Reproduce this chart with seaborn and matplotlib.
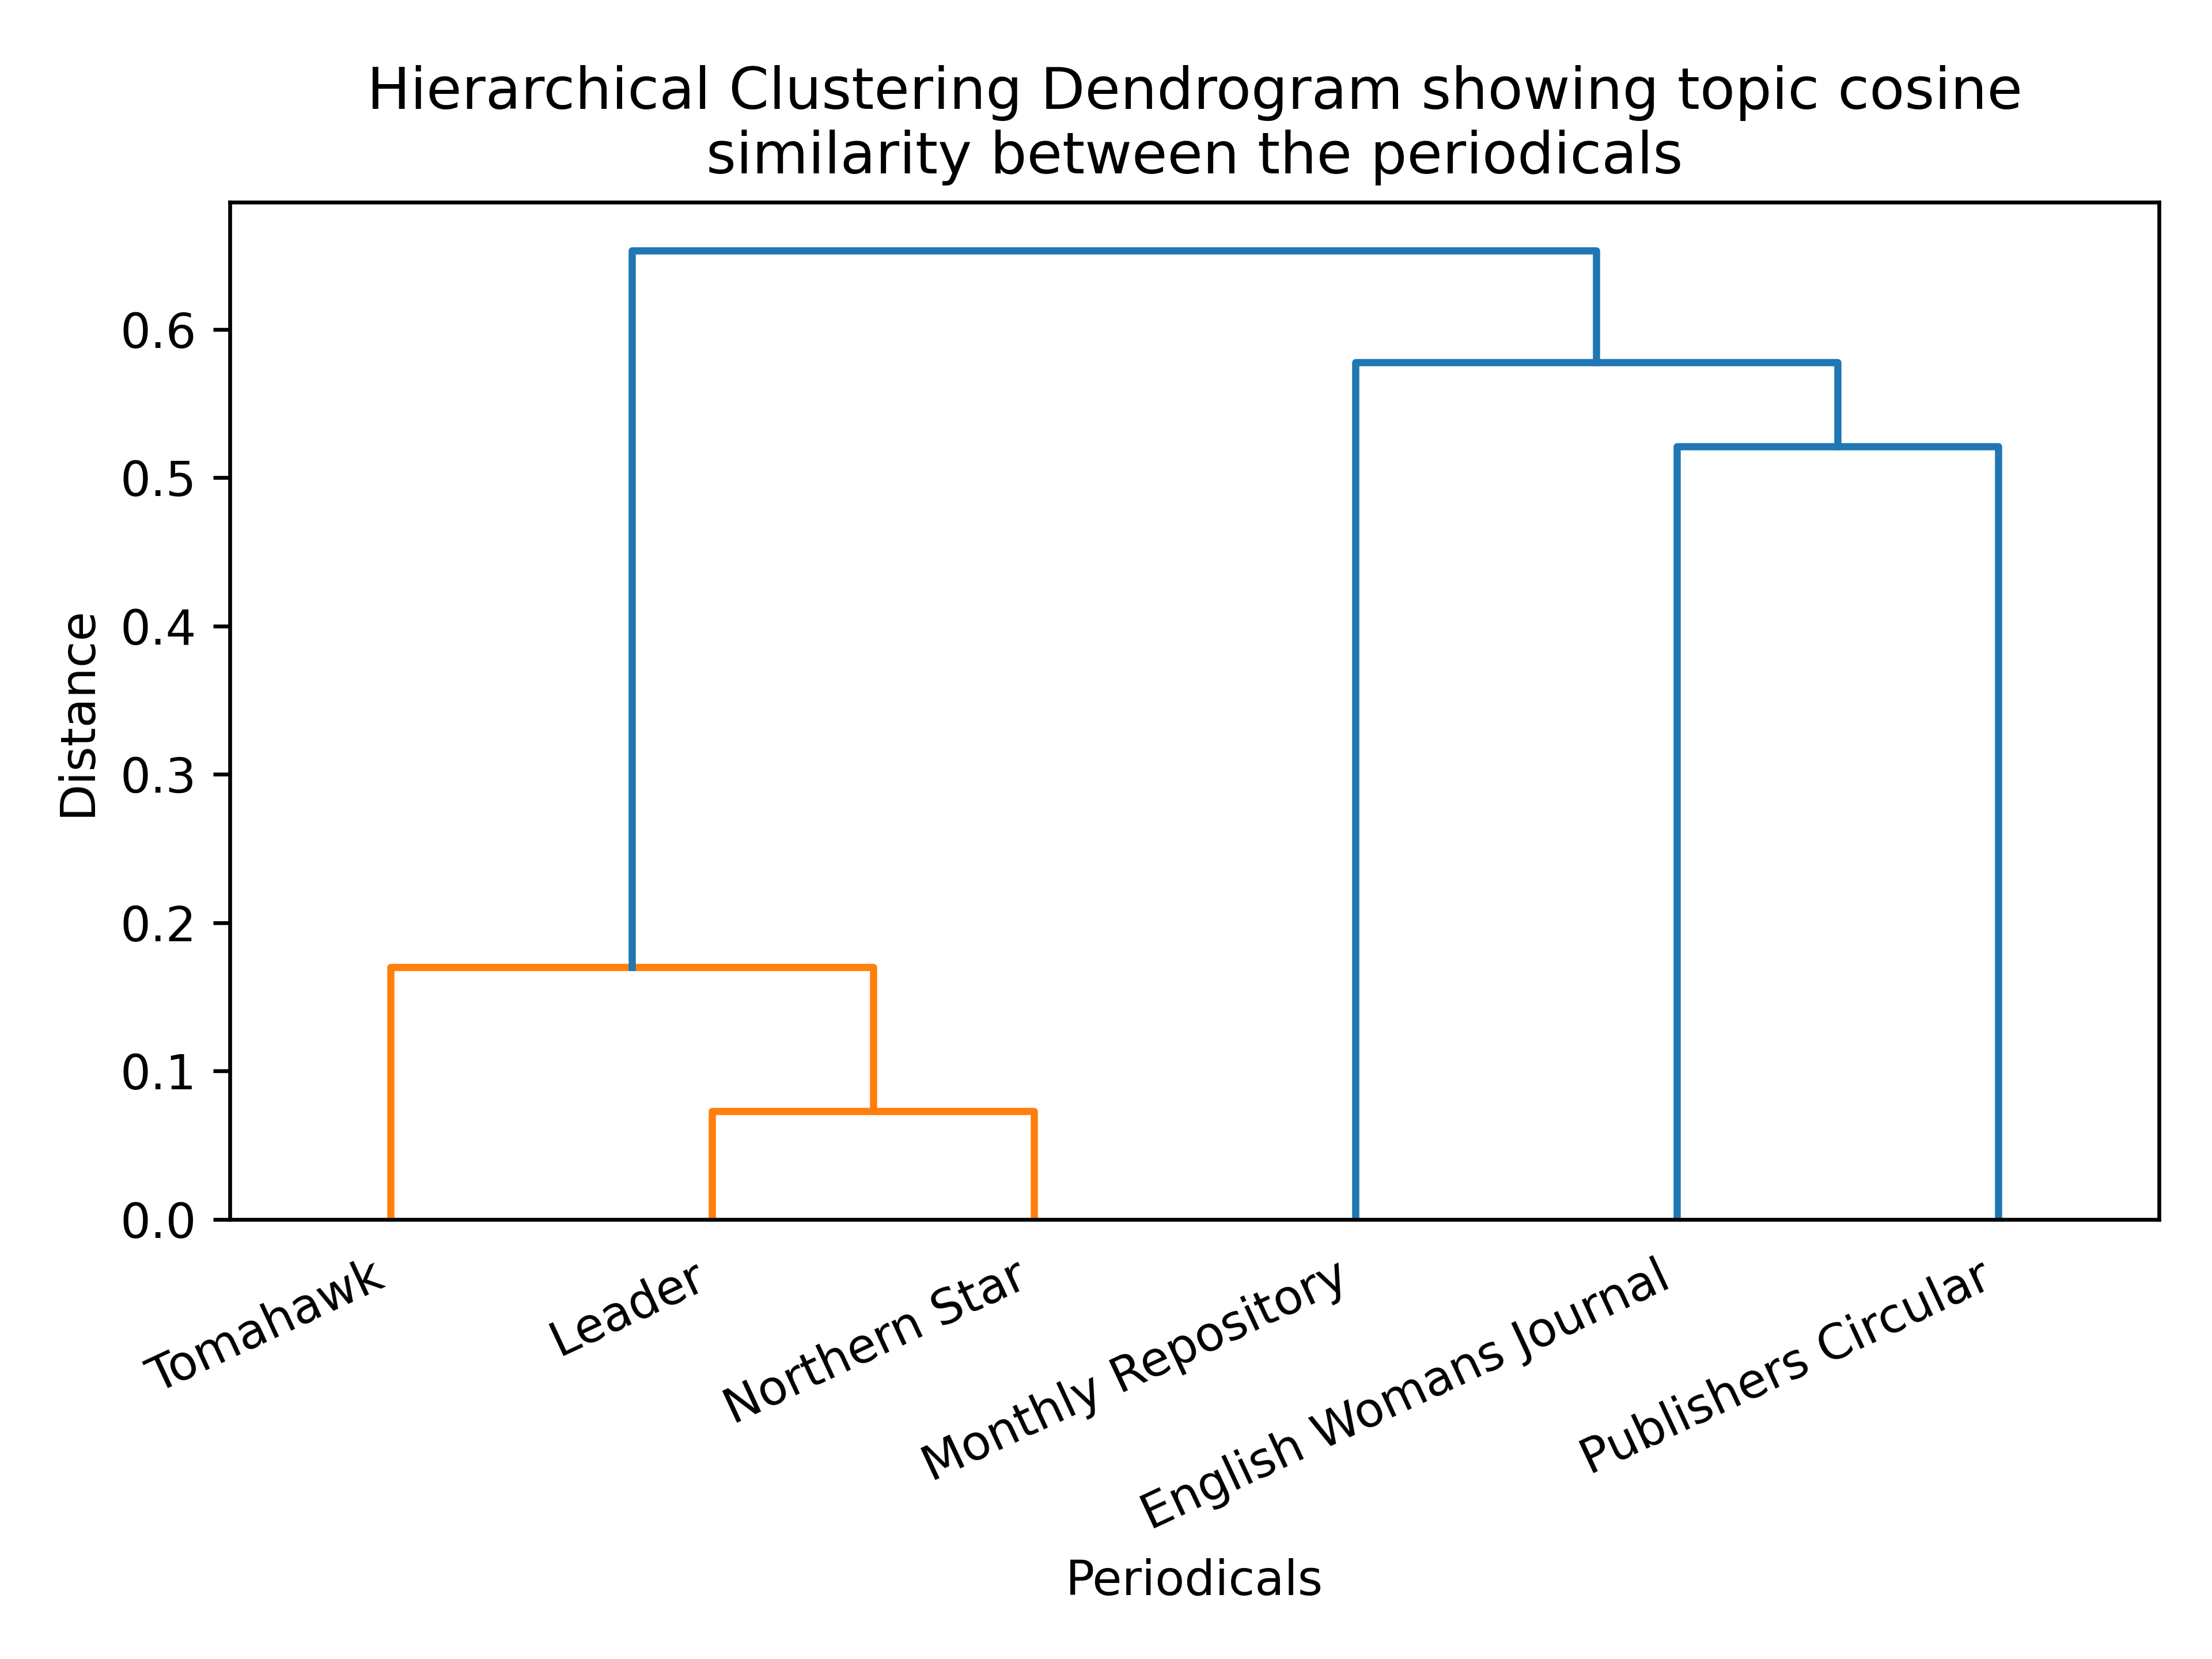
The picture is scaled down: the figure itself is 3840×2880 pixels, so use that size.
import numpy as np
import pandas as pd
import matplotlib
matplotlib.use("Agg")
import matplotlib.pyplot as plt
import seaborn as sns

# leaves in the order they appear along the x axis
leaf_labels = ["Tomahawk", "Leader", "Northern Star", "Monthly Repository",
               "English Womans Journal", "Publishers Circular"]

# linkage-style merges: new node id = 6, 7, 8, ...
merge_left = [1, 0, 4, 3, 7]
merge_right = [2, 6, 5, 8, 9]
merge_height = [0.073, 0.170, 0.521, 0.578, 0.653]

n = len(leaf_labels)
leaf_x = [5 + 10 * i for i in range(n)]

# x position / height of every node
node_x = {i: leaf_x[i] for i in range(n)}
node_h = {i: 0.0 for i in range(n)}
threshold = 0.7 * max(merge_height)

rows = []
for k, (a, b, h) in enumerate(zip(merge_left, merge_right, merge_height)):
    node = n + k
    node_x[node] = (node_x[a] + node_x[b]) / 2
    node_h[node] = h
    grp = "below" if h < threshold else "above"
    xs = [node_x[a], node_x[a], node_x[b], node_x[b]]
    ys = [node_h[a], h, h, node_h[b]]
    for x, y in zip(xs, ys):
        rows.append({"link": k, "x": x, "y": y, "grp": grp})

links = pd.DataFrame(rows)

fig, ax = plt.subplots(figsize=(6.4, 4.8), dpi=600)

sns.lineplot(data=links, x="x", y="y", units="link", hue="grp",
             estimator=None, sort=False, palette={"below": "C1", "above": "C0"},
             linewidth=1.5, legend=False, ax=ax)

ax.set_xlim(0, 10 * n)
ax.set_ylim(0, max(merge_height) * 1.05)
ax.set_xticks(leaf_x)
ax.set_xticklabels(leaf_labels, rotation=25, ha="right")
for line in ax.get_xticklines():
    line.set_visible(False)

ax.set_title("Hierarchical Clustering Dendrogram showing topic cosine\nsimilarity between the periodicals")
ax.set_xlabel("Periodicals")
ax.set_ylabel("Distance")

plt.subplots_adjust(left=0.104, right=0.976, top=0.878, bottom=0.265)
plt.savefig("out.png", dpi=600)
